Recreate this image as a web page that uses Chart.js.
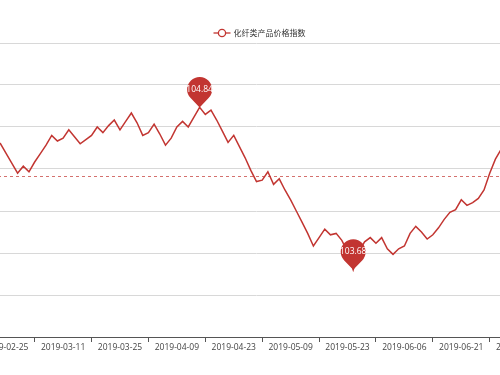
<!DOCTYPE html>
<html>
<head>
<meta charset="utf-8">
<script src="https://cdn.jsdelivr.net/npm/chart.js@4.4.1/dist/chart.umd.min.js"></script>
<style>
  html, body { margin: 0; padding: 0; background: #fff; overflow: hidden; width: 500px; height: 375px; }
  #wrap { position: absolute; left: -8px; top: 0; width: 529px; height: 375px; }
</style>
</head>
<body>
<div id="wrap"><canvas id="my-chart"></canvas></div>
<script>
const seriesName = '化纤类产品价格指数';

const dates = [
  '2019-02-21','2019-02-22','2019-02-25','2019-02-26','2019-02-27','2019-02-28','2019-03-01',
  '2019-03-04','2019-03-05','2019-03-06','2019-03-07','2019-03-08',
  '2019-03-11','2019-03-12','2019-03-13','2019-03-14','2019-03-15',
  '2019-03-18','2019-03-19','2019-03-20','2019-03-21','2019-03-22',
  '2019-03-25','2019-03-26','2019-03-27','2019-03-28','2019-03-29',
  '2019-04-01','2019-04-02','2019-04-03','2019-04-04','2019-04-08',
  '2019-04-09','2019-04-10','2019-04-11','2019-04-12',
  '2019-04-15','2019-04-16','2019-04-17','2019-04-18','2019-04-19',
  '2019-04-22','2019-04-23','2019-04-24','2019-04-25','2019-04-26',
  '2019-04-29','2019-04-30','2019-05-05','2019-05-06','2019-05-07','2019-05-08',
  '2019-05-09','2019-05-10','2019-05-13','2019-05-14','2019-05-15','2019-05-16','2019-05-17',
  '2019-05-20','2019-05-21','2019-05-22','2019-05-23','2019-05-24',
  '2019-05-27','2019-05-28','2019-05-29','2019-05-30','2019-05-31',
  '2019-06-03','2019-06-04','2019-06-05','2019-06-06',
  '2019-06-10','2019-06-11','2019-06-12','2019-06-13','2019-06-14',
  '2019-06-17','2019-06-18','2019-06-19','2019-06-20','2019-06-21',
  '2019-06-24','2019-06-25','2019-06-26','2019-06-27','2019-06-28',
  '2019-07-01','2019-07-02','2019-07-03','2019-07-04','2019-07-05'
];

const indexValues = [
  104.61,104.58,104.51,104.44,104.37,104.42,104.38,
  104.45,104.51,104.57,104.64,104.60,
  104.62,104.68,104.63,104.58,104.61,
  104.64,104.70,104.66,104.71,104.75,
  104.68,104.74,104.80,104.73,104.64,
  104.66,104.72,104.65,104.57,104.62,
  104.70,104.74,104.70,104.77,
  104.84,104.79,104.82,104.75,104.67,
  104.59,104.64,104.56,104.48,104.39,
  104.31,104.32,104.38,104.29,104.33,104.25,
  104.18,104.10,104.02,103.94,103.85,103.91,103.97,
  103.93,103.94,103.89,103.81,103.68,
  103.81,103.88,103.91,103.87,103.91,
  103.83,103.79,103.83,103.85,
  103.94,103.99,103.95,103.90,103.93,
  103.98,104.04,104.09,104.11,104.18,
  104.14,104.16,104.19,104.25,104.37,
  104.47,104.54,104.61,104.66,104.71
];

// average line value
const avgValue = 104.35;

const yMin = 103.2;
const yMax = 105.3;
const yStep = 0.3;

const red = '#c23531';

function pin(ctx, x, y, text) {
  const r = 12.5, d = 18;
  const cy = y - d;
  const phi = Math.acos(r / d);
  ctx.save();
  ctx.beginPath();
  ctx.moveTo(x, y);
  ctx.arc(x, cy, r, Math.PI / 2 + phi, Math.PI * 2.5 - phi);
  ctx.closePath();
  ctx.fillStyle = red;
  ctx.fill();
  ctx.fillStyle = '#fff';
  ctx.font = '8.5px "Open Sans"';
  ctx.textAlign = 'center';
  ctx.textBaseline = 'middle';
  ctx.fillText(text, x, cy);
  ctx.restore();
}

const markers = {
  id: 'markers',
  afterDatasetsDraw(chart) {
    const ctx = chart.ctx;
    const xs = chart.scales.x, ys = chart.scales.y;
    const area = chart.chartArea;

    // average line
    const ay = ys.getPixelForValue(avgValue);
    ctx.save();
    ctx.strokeStyle = 'rgba(194,53,49,0.7)';
    ctx.lineWidth = 1;
    ctx.setLineDash([3, 3]);
    ctx.beginPath();
    ctx.moveTo(area.left, Math.round(ay) + 0.5);
    ctx.lineTo(area.right, Math.round(ay) + 0.5);
    ctx.stroke();
    ctx.restore();

    const maxV = Math.max(...indexValues);
    const minV = Math.min(...indexValues);
    const iMax = indexValues.indexOf(maxV);
    const iMin = indexValues.indexOf(minV);
    pin(ctx, xs.getPixelForValue(iMax), ys.getPixelForValue(maxV), maxV.toFixed(2));
    pin(ctx, xs.getPixelForValue(iMin), ys.getPixelForValue(minV), minV.toFixed(2));
  },
  afterDraw(chart) {
    // legend
    const ctx = chart.ctx;
    ctx.save();
    ctx.font = '8px "Noto Sans CJK SC"';
    const tw = ctx.measureText(seriesName).width;
    const iconW = 17, gap = 3;
    const total = iconW + gap + tw;
    const x0 = chart.width / 2 + 3 - total / 2;
    const ly = 33;
    ctx.strokeStyle = red;
    ctx.lineWidth = 1.3;
    ctx.beginPath();
    ctx.moveTo(x0, ly);
    ctx.lineTo(x0 + iconW, ly);
    ctx.stroke();
    ctx.beginPath();
    ctx.arc(x0 + iconW / 2, ly, 3.6, 0, Math.PI * 2);
    ctx.fillStyle = '#fff';
    ctx.fill();
    ctx.stroke();
    ctx.fillStyle = '#333';
    ctx.textBaseline = 'middle';
    ctx.fillText(seriesName, x0 + iconW + gap, ly);
    ctx.restore();
  }
};

const ctx = document.querySelector('#my-chart');

new Chart(ctx, {
  type: 'line',
  data: {
    labels: dates,
    datasets: [{
      label: seriesName,
      data: indexValues,
      borderColor: red,
      borderWidth: 1.5,
      pointRadius: 0,
      fill: false,
      tension: 0
    }]
  },
  options: {
    responsive: true,
    maintainAspectRatio: false,
    animation: false,
    layout: { autoPadding: false, padding: { top: 43, left: 0, right: 0, bottom: 0 } },
    plugins: {
      legend: { display: false },
      tooltip: { enabled: false }
    },
    scales: {
      x: {
        offset: true,
        grid: {
          offset: true,
          drawOnChartArea: false,
          drawTicks: true,
          tickLength: 5,
          color: '#555'
        },
        border: { display: true, color: '#555', width: 1 },
        ticks: {
          autoSkip: false,
          maxRotation: 0,
          minRotation: 0,
          padding: 0,
          color: '#444',
          font: { family: '"Open Sans"', size: 8.5 },
          callback: function (val, idx) {
            return idx % 10 === 2 ? dates[idx] : null;
          }
        },
        afterFit(scale) {
          scale.height = 38;
          scale.paddingLeft = 0;
          scale.paddingRight = 0;
        }
      },
      y: {
        min: yMin,
        max: yMax,
        ticks: { display: false, stepSize: yStep },
        grid: { color: '#d8d8d8', drawTicks: false },
        border: { display: false },
        afterFit(scale) {
          scale.width = 0;
        }
      }
    }
  },
  plugins: [markers]
});
</script>
</body>
</html>
